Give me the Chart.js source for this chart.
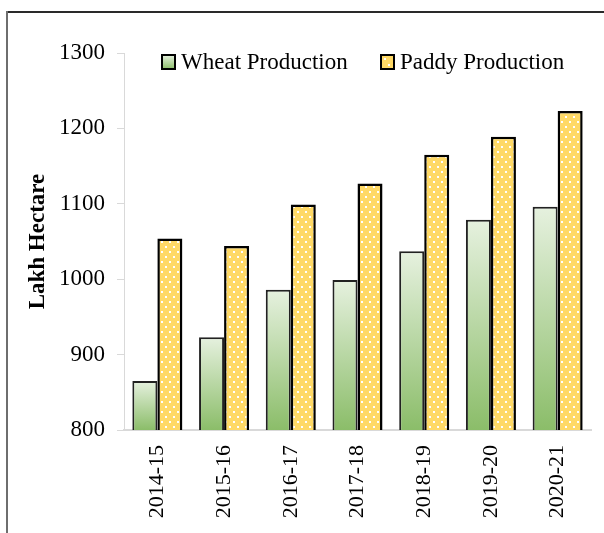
<!DOCTYPE html>
<html>
<head>
<meta charset="utf-8">
<script src="https://cdn.jsdelivr.net/npm/chart.js@4.4.1/dist/chart.umd.min.js"></script>
<style>
  body { margin: 0; background: #fff; }
  #wrap { position: relative; width: 604px; height: 533px; }
  #frameTop { position: absolute; left: 6px; top: 11px; width: 598px; height: 2px; background: #2a2a2a; }
  #frameLeft { position: absolute; left: 6px; top: 11px; width: 2px; height: 522px; background: #6e6e6e; }
</style>
</head>
<body>
<div id="wrap">
  <canvas id="chart" width="604" height="533"></canvas>
  <div id="frameTop"></div>
  <div id="frameLeft"></div>
</div>
<script>
// chart data
const years = ["2014-15", "2015-16", "2016-17", "2017-18", "2018-19", "2019-20", "2020-21"];
const wheatProduction = [865, 923, 986, 999, 1037, 1079, 1096];
const paddyProduction = [1054, 1044, 1099, 1127, 1165, 1189, 1223];
const yTicks = [800, 900, 1000, 1100, 1200, 1300];

const serif = "'Liberation Serif', 'Times New Roman', serif";

// yellow fill with white dots for the paddy bars
function dotPattern() {
    const c = document.createElement('canvas');
    c.width = 8;
    c.height = 10;
    const g = c.getContext('2d');
    g.fillStyle = '#ffd966';
    g.fillRect(0, 0, 8, 10);
    g.fillStyle = '#ffffff';
    g.fillRect(1, 1, 2, 2);
    g.fillRect(5, 6, 2, 2);
    return g.createPattern(c, 'repeat');
}
const paddyFill = dotPattern();

// each wheat bar gets its own light-to-green gradient
function wheatFill(ctx) {
    const chart = ctx.chart;
    if (ctx.type !== 'data' || !chart.chartArea) return '#b9d9a4';
    const top = chart.scales.y.getPixelForValue(ctx.raw);
    const bottom = chart.chartArea.bottom;
    const grad = chart.ctx.createLinearGradient(0, top, 0, bottom);
    grad.addColorStop(0, '#e6f1df');
    grad.addColorStop(1, '#8bbd69');
    return grad;
}

// legend sits inside the plot area, drawn by hand
const insideLegend = {
    id: 'insideLegend',
    afterDatasetsDraw(chart) {
        const c = chart.ctx;
        const xs = [162, 381];
        const y = chart.chartArea.top + 9;
        c.save();
        c.font = '23px ' + serif;
        c.textBaseline = 'middle';
        c.textAlign = 'left';
        chart.data.datasets.forEach((ds, i) => {
            const x = xs[i];
            if (i === 0) {
                const g = c.createLinearGradient(0, y - 7, 0, y + 7);
                g.addColorStop(0, '#e6f1df');
                g.addColorStop(1, '#8bbd69');
                c.fillStyle = g;
            } else {
                c.fillStyle = '#ffd966';
            }
            c.fillRect(x, y - 7, 13, 14);
            if (i === 1) {
                c.fillStyle = '#fff';
                c.fillRect(x + 7, y + 2, 2, 2);
                c.fillRect(x + 3, y - 4, 2, 2);
            }
            c.lineWidth = 2;
            c.strokeStyle = '#000';
            c.strokeRect(x, y - 7, 13, 14);
            c.fillStyle = '#000';
            c.fillText(ds.label, x + 19, y + 1);
        });
        c.restore();
    }
};

const ctx = document.getElementById('chart').getContext('2d');
const chart = new Chart(ctx, {
    type: 'bar',
    data: {
        labels: years,
        datasets: [{
            label: 'Wheat Production',
            data: wheatProduction,
            backgroundColor: wheatFill,
            borderColor: '#222222',
            borderWidth: 2
        }, {
            label: 'Paddy Production',
            data: paddyProduction,
            backgroundColor: paddyFill,
            borderColor: '#000000',
            borderWidth: 2.5
        }]
    },
    options: {
        responsive: false,
        animation: false,
        layout: { padding: { left: 0, top: 53, right: 13, bottom: 0 } },
        datasets: {
            bar: { barPercentage: 1, categoryPercentage: 0.75 }
        },
        plugins: {
            legend: { display: false },
            tooltip: { enabled: false }
        },
        scales: {
            x: {
                grid: { display: false, drawTicks: false },
                border: { display: true, color: '#d9d9d9', width: 2 },
                ticks: {
                    color: '#000',
                    font: { family: serif, size: 22 },
                    minRotation: 90,
                    maxRotation: 90,
                    autoSkip: false,
                    padding: 15
                },
                afterFit: s => { s.height = 103; }
            },
            y: {
                min: 800,
                max: 1300,
                afterBuildTicks: s => { s.ticks = yTicks.map(v => ({ value: v })); },
                grid: {
                    drawOnChartArea: false,
                    drawTicks: true,
                    tickLength: 7,
                    color: '#d9d9d9'
                },
                border: { display: true, color: '#d9d9d9', width: 1 },
                ticks: {
                    color: '#000',
                    font: { family: serif, size: 23 },
                    padding: 12,
                    callback: v => String(v)
                },
                title: {
                    display: true,
                    text: 'Lakh Hectare',
                    color: '#000',
                    font: { family: serif, size: 23, weight: 'bold' },
                    padding: { top: 24, bottom: 0 }
                },
                afterFit: s => { s.width = 124; }
            }
        }
    },
    plugins: [insideLegend]
});
</script>
</body>
</html>
